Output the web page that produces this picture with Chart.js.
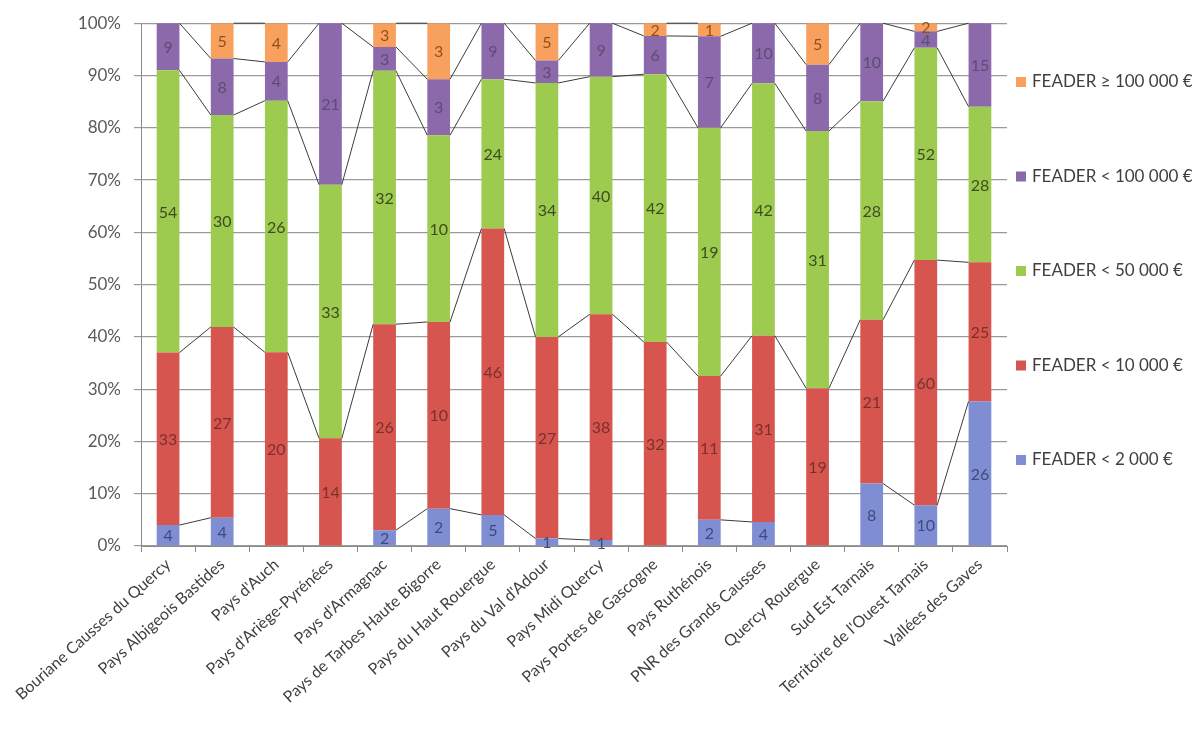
<!DOCTYPE html>
<html lang="fr">
<head>
<meta charset="utf-8">
<title>Répartition des dossiers FEADER par territoire</title>
<script src="https://cdn.jsdelivr.net/npm/chart.js@4.4.1/dist/chart.umd.min.js"></script>
<style>
  html, body { margin: 0; padding: 0; background: #ffffff; }
  #wrap { width: 1194px; height: 738px; position: relative; }
  canvas { display: block; }
</style>
</head>
<body>
<div id="wrap"><canvas id="chart" width="1194" height="738"></canvas></div>
<script>
// Territories (x axis)
const categories = [
  "Bouriane Causses du Quercy",
  "Pays Albigeois Bastides",
  "Pays d'Auch",
  "Pays d'Ariège-Pyrénées",
  "Pays d'Armagnac",
  "Pays de Tarbes Haute Bigorre",
  "Pays du Haut Rouergue",
  "Pays du Val d'Adour",
  "Pays Midi Quercy",
  "Pays Portes de Gascogne",
  "Pays Ruthénois",
  "PNR des Grands Causses",
  "Quercy Rouergue",
  "Sud Est Tarnais",
  "Territoire de l'Ouest Tarnais",
  "Vallées des Gaves"
];

// Number of files per FEADER amount bracket
const feaderLt2000   = [4, 4, 0, 0, 2, 2, 5, 1, 1, 0, 2, 4, 0, 8, 10, 26];
const feaderLt10000  = [33, 27, 20, 14, 26, 10, 46, 27, 38, 32, 11, 31, 19, 21, 60, 25];
const feaderLt50000  = [54, 30, 26, 33, 32, 10, 24, 34, 40, 42, 19, 42, 31, 28, 52, 28];
const feaderLt100000 = [9, 8, 4, 21, 3, 3, 9, 3, 9, 6, 7, 10, 8, 10, 4, 15];
const feaderGe100000 = [0, 5, 4, 0, 3, 3, 0, 5, 0, 2, 1, 0, 5, 0, 2, 0];

// Bracket names (legend)
const seriesLabels = [
  "FEADER < 2 000 €",
  "FEADER < 10 000 €",
  "FEADER < 50 000 €",
  "FEADER < 100 000 €",
  "FEADER ≥ 100 000 €"
];

// Percent axis ticks
const yTicks = [0, 10, 20, 30, 40, 50, 60, 70, 80, 90, 100];

const counts = [feaderLt2000, feaderLt10000, feaderLt50000, feaderLt100000, feaderGe100000];
const totals = categories.map((_, i) => counts.reduce((s, arr) => s + arr[i], 0));
const toPercent = arr => arr.map((v, i) => v / totals[i] * 100);

const fills = ["#7f8dd2", "#d6564f", "#9ccb4f", "#8c69aa", "#f8a15e"];
const labelInk = ["#3f4a7e", "#7c2f2c", "#3f4c1f", "#5b4d74", "#93501a"];

const FONT = "Lato, 'Open Sans', sans-serif";

// Series lines between neighbouring bars (skipped when a bracket is empty)
const seriesLinesPlugin = {
  id: "seriesLines",
  afterDatasetsDraw(chart) {
    const ctx = chart.ctx;
    ctx.save();
    ctx.strokeStyle = "#3c3c3c";
    ctx.lineWidth = 1;
    chart.data.datasets.forEach((ds, d) => {
      const meta = chart.getDatasetMeta(d);
      for (let i = 0; i < meta.data.length - 1; i++) {
        if (!ds.counts[i] || !ds.counts[i + 1]) continue;
        const a = meta.data[i], b = meta.data[i + 1];
        ctx.beginPath();
        ctx.moveTo(a.x + a.width / 2, a.y);
        ctx.lineTo(b.x - b.width / 2, b.y);
        ctx.stroke();
      }
    });
    ctx.restore();
  }
};

// Count labels centred in each segment
const countLabelsPlugin = {
  id: "countLabels",
  afterDatasetsDraw(chart) {
    const ctx = chart.ctx;
    ctx.save();
    ctx.font = "16px " + FONT;
    ctx.textAlign = "center";
    ctx.textBaseline = "middle";
    chart.data.datasets.forEach((ds, d) => {
      const meta = chart.getDatasetMeta(d);
      meta.data.forEach((el, i) => {
        const n = ds.counts[i];
        if (!n) return;
        ctx.fillStyle = ds.labelColor;
        ctx.fillText(String(n), el.x, (el.y + el.base) / 2 + 1);
      });
    });
    ctx.restore();
  }
};

// Legend on the right, highest bracket first
const sideLegendPlugin = {
  id: "sideLegend",
  afterDraw(chart) {
    const ctx = chart.ctx;
    const x = chart.chartArea.right + 9;
    const firstY = 82, step = 94.5;
    ctx.save();
    ctx.font = "17px " + FONT;
    ctx.textBaseline = "middle";
    ctx.textAlign = "left";
    const order = chart.data.datasets.map((_, i) => i).reverse();
    order.forEach((d, k) => {
      const ds = chart.data.datasets[d];
      const y = firstY + k * step;
      ctx.fillStyle = ds.backgroundColor;
      ctx.fillRect(x, y - 5, 10, 10);
      ctx.fillStyle = "#3f3f3f";
      ctx.fillText(ds.label, x + 16, y);
    });
    ctx.restore();
  }
};

function build() {
  const datasets = counts.map((arr, d) => ({
    label: seriesLabels[d],
    data: toPercent(arr),
    counts: arr,
    backgroundColor: fills[d],
    labelColor: labelInk[d],
    borderWidth: 0,
    categoryPercentage: 1.0,
    barPercentage: 0.42
  }));

  new Chart(document.getElementById("chart"), {
    type: "bar",
    data: { labels: categories, datasets },
    options: {
      responsive: false,
      animation: false,
      layout: { padding: { top: 21, right: 187, left: 0, bottom: 0 } },
      plugins: {
        legend: { display: false },
        tooltip: { enabled: false }
      },
      scales: {
        x: {
          stacked: true,
          grid: {
            offset: true,
            drawOnChartArea: false,
            drawTicks: true,
            tickLength: 6,
            color: "#8a8a8a"
          },
          border: { color: "#8a8a8a", width: 1 },
          ticks: {
            minRotation: 42,
            maxRotation: 42,
            autoSkip: false,
            padding: 3,
            color: "#3f3f3f",
            font: { family: FONT, size: 16 }
          },
          afterFit(scale) { scale.height = 192; }
        },
        y: {
          stacked: true,
          min: 0,
          max: 100,
          afterBuildTicks(scale) { scale.ticks = yTicks.map(v => ({ value: v })); },
          grid: {
            color: "#9a9a9a",
            lineWidth: 1.2,
            tickLength: 7
          },
          border: { color: "#8a8a8a", width: 1 },
          ticks: {
            padding: 13,
            color: "#5a5a5a",
            font: { family: FONT, size: 17 },
            callback: v => v + "%"
          },
          afterFit(scale) { scale.width = 141; }
        }
      }
    },
    plugins: [seriesLinesPlugin, countLabelsPlugin, sideLegendPlugin]
  });
}

if (document.fonts && document.fonts.load) {
  Promise.all([document.fonts.load("16px Lato"), document.fonts.load("17px Lato")])
    .then(build, build);
} else {
  build();
}
</script>
</body>
</html>
